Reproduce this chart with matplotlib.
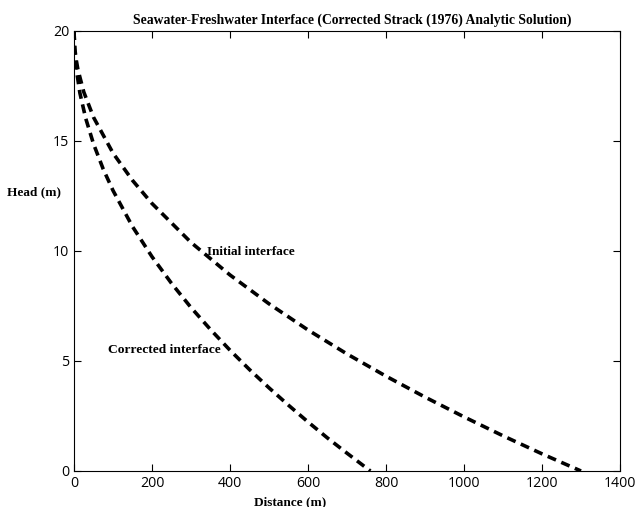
import matplotlib
matplotlib.use("Agg")
import matplotlib.pyplot as plt

# Initial interface
init_x = [0, 2, 5, 10, 25, 50, 100, 150, 200, 300, 400, 500, 600, 700, 800, 900, 1000, 1100, 1200, 1300]
init_h = [20, 19.22, 18.76, 18.25, 17.23, 16.08, 14.45, 13.21, 12.16, 10.39, 8.91, 7.60, 6.41, 5.32, 4.31, 3.36, 2.46, 1.60, 0.78, 0]

# Corrected interface
corr_x = [0, 2, 5, 15, 30, 50, 75, 100, 150, 200, 250, 300, 350, 400, 450, 500, 550, 600, 650, 700, 760]
corr_h = [20, 18.97, 18.38, 17.19, 16.03, 14.87, 13.72, 12.75, 11.11, 9.74, 8.53, 7.43, 6.43, 5.49, 4.61, 3.78, 2.99, 2.23, 1.50, 0.81, 0]

title = "Seawater-Freshwater Interface (Corrected Strack (1976) Analytic Solution)"
serif = ["Liberation Serif", "DejaVu Serif"]

fig = plt.figure(figsize=(6.36, 5.07), dpi=100)
ax = fig.add_axes([74/636, 1-471/507, 546/636, 440/507])

for xs, hs in [(init_x, init_h), (corr_x, corr_h)]:
    ln, = ax.plot(xs, hs, color="black", linewidth=2.6, linestyle="--")
    ln.set_dashes((2.5, 1.6))

ax.set_xlim(0, 1400)
ax.set_ylim(0, 20)
ax.set_xticks(range(0, 1401, 200))
ax.set_yticks([0, 5, 10, 15, 20])
ax.tick_params(direction="in", length=5, top=True, right=True, labelsize=10.2)
for lab in ax.get_xticklabels() + ax.get_yticklabels():
    lab.set_family(["Open Sans", "DejaVu Sans"])

ax.set_title(title, family=serif, fontweight="bold", fontsize=9.8, pad=5)
ax.title.set_position((0.51, 1.0))
ax.set_xlabel("Distance (m)", family=serif, fontweight="bold", fontsize=9.5)
ax.xaxis.set_label_coords(0.396, -0.057)
ax.set_ylabel("Head (m)", family=serif, fontweight="bold", fontsize=9.5, rotation=0)
ax.yaxis.set_label_coords(-0.073, 0.62)

ax.text(342, 9.95, "Initial interface", family=serif, fontweight="bold", fontsize=9.5, va="center", ha="left")
ax.text(87, 5.5, "Corrected interface", family=serif, fontweight="bold", fontsize=9.7, va="center", ha="left")

fig.savefig("out.png", dpi=100)
